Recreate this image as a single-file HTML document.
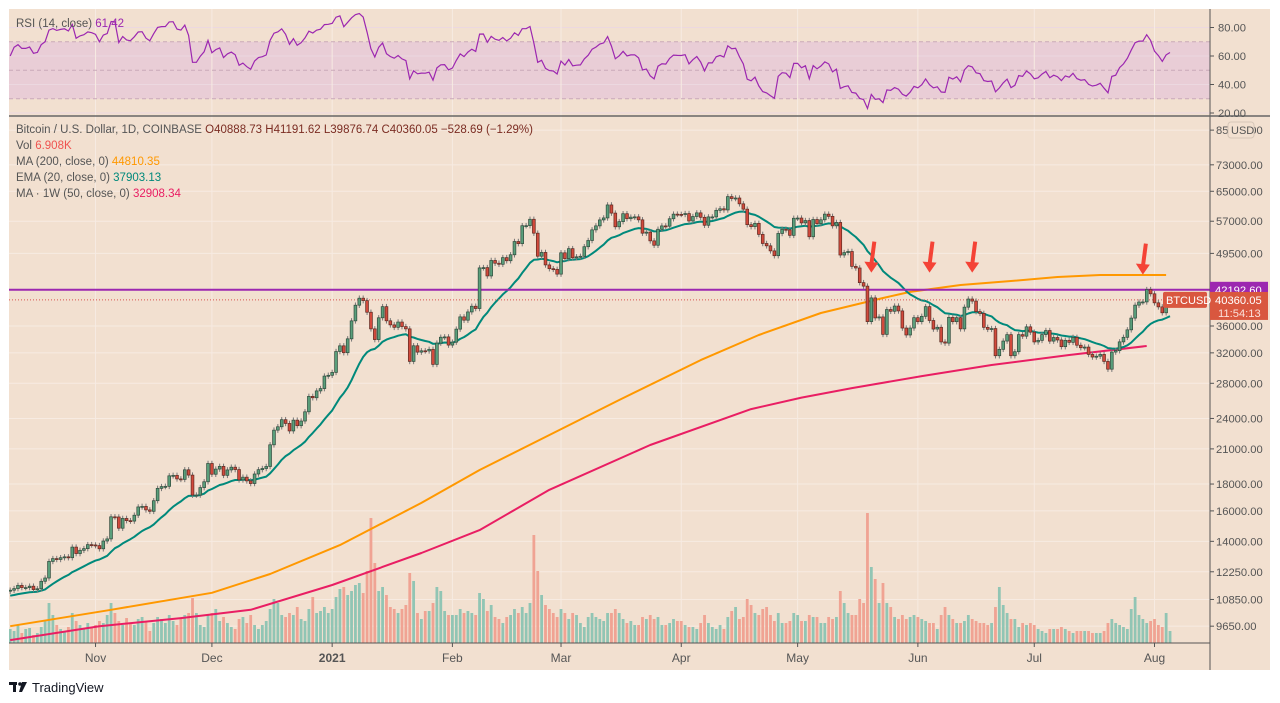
<!DOCTYPE html>
<html><head><meta charset="utf-8">
<style>
html,body{margin:0;padding:0;background:#fff;}
body{width:1280px;height:703px;overflow:hidden;font-family:"Liberation Sans",sans-serif;}
svg{position:absolute;left:0;top:0;}
</style></head>
<body>
<svg id="chart" width="1280" height="703" xmlns="http://www.w3.org/2000/svg"></svg>
<script>
const closes = [
11300,11380,11540,11430,11430,11500,11330,11370,11750,11920,12820,12980,12930,13030,13080,13030,13650,13270,13460,13560,13800,13780,
13740,13550,14020,14150,15590,15580,14830,15480,15330,15300,15700,16280,16320,16070,15970,16730,17660,17800,17820,18660,18700,18410,18370,19160,18720,17150,17150,17720,18180,19700,
18790,19220,19450,18700,19150,19380,19180,18330,18550,18250,18040,18810,19170,19270,19440,21380,22800,23140,23870,23480,22720,23820,23250,23730,24710,26440,26280,27080,27360,28900,29000,
29370,32190,33000,32020,34030,36820,39440,40670,40240,38240,35550,33920,37320,39190,36830,36180,35790,36630,35910,35550,30820,33010,32100,32290,32270,32500,30420,33400,34270,34320,33110,
33540,35510,37470,36930,38290,39260,38870,46450,46510,44840,47990,47410,47190,48590,47930,49200,52150,51670,55890,55900,57490,54090,48890,49710,47060,46290,46160,45200,
49630,48380,50540,48560,48760,48880,50970,52380,54880,55850,57330,57830,61220,59070,55630,56900,58910,57640,58030,58100,57350,54090,54340,52300,51300,55030,55840,55770,57620,58800,58740,
58720,58950,57060,58200,59130,57990,56000,58090,58090,59790,60200,59890,63500,62970,63110,61520,60100,56150,55660,56470,53800,51700,51170,50050,49000,54020,55030,54880,53580,57750,
57800,56580,57170,53250,57440,56400,57360,58800,58230,55860,56700,49150,49680,49920,46760,46430,43540,42880,36700,40720,37300,37460,34700,38700,38400,39290,38460,35680,34610,35680,37340,
36690,37560,39190,36880,35520,35800,33570,33400,37390,36690,37340,35550,39100,40520,40160,38350,38050,35790,35480,35600,31600,32500,33700,34660,31600,32160,34660,34430,35870,35040,
33570,33800,34670,35290,33690,34230,33860,32880,33810,33510,34250,33090,32730,32820,31780,31420,31530,31780,30820,29790,32110,32310,33580,34260,35400,37270,39450,39990,40010,42230,41460,
39850,39150,38150,39740,40360];
const volumes = [
14,12,18,10,14,15,8,10,16,22,40,28,18,14,12,16,30,22,18,14,20,16,
18,22,20,28,40,30,22,18,25,20,18,24,26,22,12,20,26,24,20,28,22,18,24,28,30,45,30,18,16,28,
30,34,22,26,20,16,14,24,26,20,28,18,14,18,22,34,44,40,28,26,30,28,36,24,22,34,46,30,32,36,30,
34,46,54,56,48,52,58,60,50,72,125,80,52,56,48,36,34,30,34,38,70,62,30,24,32,32,40,56,52,32,28,
28,28,34,30,32,30,28,50,44,32,38,26,24,20,26,28,34,30,36,30,40,108,72,48,38,34,30,26,
34,30,24,30,28,20,16,26,30,26,24,22,30,30,34,30,24,20,22,18,18,26,24,28,24,26,18,18,20,24,22,
22,18,16,16,14,20,28,20,16,14,18,14,26,32,36,24,26,44,38,30,28,34,36,28,22,30,20,20,22,30,
28,22,22,28,26,26,20,20,26,24,26,52,40,30,28,28,44,40,130,76,64,40,60,40,36,26,24,28,24,26,28,
26,24,22,20,20,14,28,36,28,24,20,20,22,28,24,22,20,20,18,20,36,56,38,30,24,24,16,20,18,20,
18,14,12,10,14,14,14,16,14,12,10,12,12,12,12,10,10,10,12,20,24,20,18,16,14,34,46,28,24,20,22,
24,18,16,30,12];
const ma200Idx = [0,26,52,67,85,106,121,139,157,178,193,209,225,232,245,258,270,281,298];
const ma200Val = [9650,10370,11170,12130,13770,16570,19140,22320,26020,31000,34600,38120,40700,41800,43100,43860,44630,45030,45030];
const wma50Idx = [0,23,44,62,83,106,121,139,165,191,204,217,235,253,273,293];
const wma50Val = [9080,9650,10000,10370,11560,13300,14710,17550,21360,25000,26300,27420,28900,30340,31700,32980];
const priceTicks = [85000,73000,65000,57000,49500,36000,32000,28000,24000,21000,18000,16000,14000,12250,10850,9650];
const rsiTicks = [80,60,40,20];
const monthLabels = ['Nov','Dec','2021','Feb','Mar','Apr','May','Jun','Jul','Aug'];
const monthIdx = [22,52,83,114,142,173,203,234,264,295];
const resistance = 42192.60;
const lastPrice = 40360.05;
const arrowIdx = [222,237,248,292];

const NS='http://www.w3.org/2000/svg';
const svg=document.getElementById('chart');
function el(t,a,p){const e=document.createElementNS(NS,t);for(const k in a)e.setAttribute(k,a[k]);(p||svg).appendChild(e);return e;}
const X=i=>10.2+i*3.879;
const Y=p=>326-228*Math.log(p/36000);
const RY=v=>113-(v-20)*1.425;
const VY=v=>643-v;
const L=9,R=1210,W=1270;

let r=el('rect',{x:L,y:9,width:W-L,height:661,fill:'#f2e0d0'});

r=el('rect',{x:L,y:RY(70),width:R-L,height:RY(30)-RY(70),fill:'#e9cdd6'});

const grid=el('g',{stroke:'#f7ebe2','stroke-width':1});

priceTicks.forEach(p=>{const y=Y(p);if(y>120&&y<643)el('line',{x1:L,x2:R,y1:y,y2:y},grid);});
rsiTicks.forEach(v=>el('line',{x1:L,x2:R,y1:RY(v),y2:RY(v),stroke:'#ecd8e0'},grid));
monthIdx.forEach(i=>{el('line',{x1:X(i),x2:X(i),y1:9,y2:643},grid);});
[70,50,30].forEach(v=>{const l=el('line',{x1:L,x2:R,y1:RY(v),y2:RY(v),stroke:'#c9a9b8','stroke-dasharray':'4,3'});
});

const defs=el('defs',{});const cp=el('clipPath',{id:'mc'},defs);el('rect',{x:L,y:120,width:R-L,height:523},cp);
const cr=el('clipPath',{id:'rc'},defs);el('rect',{x:L,y:9,width:R-L,height:107},cr);

const vg=el('g',{'clip-path':'url(#mc)'});

closes.forEach((c,i)=>{const o=i?closes[i-1]:11250;const v=volumes[i]||0;
 const b=el('rect',{x:X(i)-1.4,y:VY(v),width:2.8,height:643-VY(v),fill:c>=o?'#91c5b4':'#f0a393'},vg);
 });

function poly(idx,vals,color,w,name){let d='';idx.forEach((k,j)=>{d+=(j?'L':'M')+X(k).toFixed(1)+','+Y(vals[j]).toFixed(1);});
 const p=el('path',{d:d,fill:'none',stroke:color,'stroke-width':w,'clip-path':'url(#mc)','stroke-linejoin':'round'});
 }
poly(ma200Idx,ma200Val,'#ff9800',2,'ma200-line');
poly(wma50Idx,wma50Val,'#e91e63',2,'weekly-ma50-line');
const ema=[];let e=11000;const k=2/21;closes.forEach((c,i)=>{e=c*k+e*(1-k);ema.push(e);});
poly(closes.map((c,i)=>i),ema,'#00897b',2,'ema20-line');

let ln=el('line',{x1:L,x2:R,y1:Y(resistance),y2:Y(resistance),stroke:'#9c27b0','stroke-width':2});

ln=el('line',{x1:L,x2:R,y1:Y(lastPrice),y2:Y(lastPrice),stroke:'#d9534f','stroke-width':1,'stroke-dasharray':'1,2'});


const cg=el('g',{'clip-path':'url(#mc)'});

closes.forEach((c,i)=>{const o=i?closes[i-1]:11250;const up=c>=o;
 const hi=Math.max(o,c)*1.012,lo=Math.min(o,c)*0.988;const x=X(i);
 const g=el('g',{},cg);
 el('line',{x1:x,x2:x,y1:Y(hi),y2:Y(lo),stroke:'#777','stroke-width':1},g);
 const t=Y(Math.max(o,c)),bt=Y(Math.min(o,c));
 el('rect',{x:x-1.4,y:t,width:2.8,height:Math.max(1,bt-t),fill:up?'#5a9f7b':'#d24a3c',stroke:up?'#2f4a3c':'#5e2a22','stroke-width':0.7},g);});

arrowIdx.forEach(i=>{const x=X(i);const tip=Y(45500)+ (i>280?2:0);
 const g=el('g',{});
 el('line',{x1:x+3,y1:tip-31,x2:x,y2:tip-8,stroke:'#f44336','stroke-width':4},g);
 el('polygon',{points:`${x-7},${tip-11} ${x+7},${tip-10} ${x},${tip}`,fill:'#f44336'},g);});

const rsi=[];let ag=0,al=0;closes.forEach((c,i)=>{if(i===0){ag=150;al=80;rsi.push(60);return;}
 const d=c-closes[i-1];ag=(ag*13+Math.max(d,0))/14;al=(al*13+Math.max(-d,0))/14;rsi.push(100-100/(1+ag/(al||1e-9)));});
let d='';rsi.forEach((v,i)=>{d+=(i?'L':'M')+X(i).toFixed(1)+','+RY(v).toFixed(1);});
let rp=el('path',{d:d,fill:'none',stroke:'#9c27b0','stroke-width':1.2,'clip-path':'url(#rc)'});


ln=el('line',{x1:R,x2:R,y1:9,y2:670,stroke:'#555'});
ln=el('line',{x1:L,x2:W,y1:116,y2:116,stroke:'#666','stroke-width':1.5});
ln=el('line',{x1:L,x2:R,y1:643,y2:643,stroke:'#555'});
function txt(x,y,s,o){const t=el('text',Object.assign({x:x,y:y,'font-size':12,fill:'#555','font-family':'Liberation Sans, sans-serif'},o||{}));t.textContent=s;return t;}
priceTicks.forEach(p=>{const y=Y(p);el('line',{x1:R,x2:R+4,y1:y,y2:y,stroke:'#555'});
 const t=txt(1216,y+4,p.toFixed(2),{'font-size':11.2});});
rsiTicks.forEach(v=>{const y=RY(v);el('line',{x1:R,x2:R+4,y1:y,y2:y,stroke:'#555'});
 const t=txt(1218,y+4,v.toFixed(2),{'font-size':11.2});});
monthLabels.forEach((m,j)=>{const x=X(monthIdx[j]);el('line',{x1:x,x2:x,y1:643,y2:647,stroke:'#555'});
 const t=txt(x,662,m,{'text-anchor':'middle','font-weight':m==='2021'?'bold':'normal'});});

let b=el('rect',{x:1228,y:122,width:26,height:16,rx:3,fill:'#f2e0d0',stroke:'#d6c6b8'});
txt(1231,134,'USD',{'font-size':11});
b=el('rect',{x:1210,y:Y(resistance)-8,width:58,height:16,fill:'#9c27b0'});
txt(1215,Y(resistance)+4,'42192.60',{fill:'#fff','font-size':11.2});
b=el('rect',{x:1210,y:Y(lastPrice)-8,width:58,height:28,fill:'#d9573f'});
txt(1215,Y(lastPrice)+4,'40360.05',{fill:'#fff','font-size':11.2});
txt(1218,Y(lastPrice)+17,'11:54:13',{fill:'#fbe0da','font-size':11.2});
b=el('rect',{x:1163,y:Y(lastPrice)-8,width:44,height:16,rx:2,fill:'#d9573f'});
txt(1166,Y(lastPrice)+4,'BTCUSD',{fill:'#fff','font-size':11});

const lg=[[133,[['Bitcoin / U.S. Dollar, 1D, COINBASE  ','#555'],['O40888.73  H41191.62  L39876.74  C40360.05  −528.69 (−1.29%)','#7b2c22']]],
 [149,[['Vol  ','#555'],['6.908K','#ef5350']]],
 [165,[['MA (200, close, 0)  ','#555'],['44810.35','#ff9800']]],
 [181,[['EMA (20, close, 0)  ','#555'],['37903.13','#00897b']]],
 [197,[['MA · 1W (50, close, 0)  ','#555'],['32908.34','#e91e63']]]];
lg.forEach(([y,parts])=>{const t=el('text',{x:16,y:y,'font-size':11.5,'font-family':'Liberation Sans, sans-serif','xml:space':'preserve'});
 
 parts.forEach(([s,c])=>{const sp=el('tspan',{fill:c},t);sp.textContent=s;});});
let rt=el('text',{x:16,y:27,'font-size':11.5,'font-family':'Liberation Sans, sans-serif','xml:space':'preserve'});

let s1=el('tspan',{fill:'#555'},rt);s1.textContent='RSI (14, close)  ';let s2=el('tspan',{fill:'#9c27b0'},rt);s2.textContent='61.42';

const lgG=el('g',{});
el('rect',{x:9,y:682,width:8,height:3,fill:'#131722'},lgG);el('rect',{x:13,y:682,width:3,height:10,fill:'#131722'},lgG);
el('circle',{cx:20,cy:684,r:1.8,fill:'#131722'},lgG);el('polygon',{points:'22,682 27,682 22,692 19,692',fill:'#131722'},lgG);
txt(32,692,'TradingView',{'font-size':13,fill:'#131722'},lgG);
</script>
</body></html>
